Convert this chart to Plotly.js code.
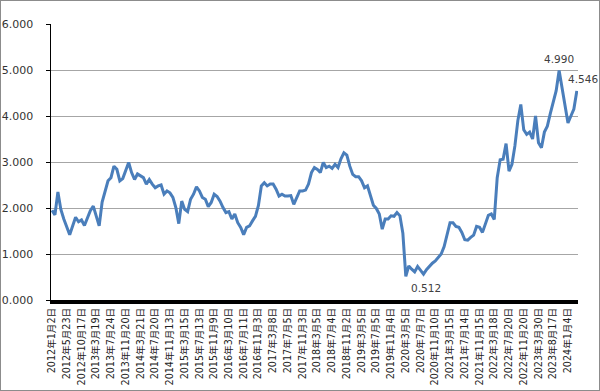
<!DOCTYPE html>
<html>
<head>
<meta charset="utf-8">
<script src="https://cdn.plot.ly/plotly-3.0.1.min.js"></script>
<style>
html,body{margin:0;padding:0;background:#fff;}
#chart{width:600px;height:391px;box-sizing:border-box;border:1px solid #8c8c8c;}
</style>
</head>
<body>
<div id="chart"></div>
<script>
// observation dates (categories)
const dates = [
'2012-01-02','2012-01-30','2012-02-27','2012-03-26','2012-04-24','2012-05-23','2012-06-21','2012-07-20','2012-08-20','2012-09-18',
'2012-10-17','2012-11-16','2012-12-17','2013-01-16','2013-02-15','2013-03-19','2013-04-13','2013-05-08','2013-06-03','2013-06-28',
'2013-07-24','2013-08-17','2013-09-10','2013-10-04','2013-10-28','2013-11-20','2013-12-14','2014-01-08','2014-02-01','2014-02-25',
'2014-03-21','2014-04-14','2014-05-08','2014-06-01','2014-06-25','2014-07-20','2014-08-12','2014-09-04','2014-09-27','2014-10-20',
'2014-11-13','2014-12-07','2015-01-01','2015-01-25','2015-02-18','2015-03-15','2015-04-08','2015-05-02','2015-05-26','2015-06-19',
'2015-07-13','2015-08-06','2015-08-30','2015-09-23','2015-10-16','2015-11-09','2015-12-03','2015-12-28','2016-01-21','2016-02-14',
'2016-03-10','2016-04-03','2016-04-28','2016-05-23','2016-06-16','2016-07-11','2016-08-03','2016-08-26','2016-09-18','2016-10-11',
'2016-11-03','2016-11-28','2016-12-23','2017-01-17','2017-02-11','2017-03-08','2017-04-01','2017-04-25','2017-05-19','2017-06-12',
'2017-07-05','2017-07-29','2017-08-22','2017-09-15','2017-10-10','2017-11-03','2017-11-27','2017-12-22','2018-01-15','2018-02-08',
'2018-03-05','2018-03-29','2018-04-22','2018-05-16','2018-06-10','2018-07-04','2018-07-28','2018-08-21','2018-09-14','2018-10-09',
'2018-11-02','2018-11-26','2018-12-21','2019-01-15','2019-02-09','2019-03-05','2019-03-29','2019-04-23','2019-05-17','2019-06-10',
'2019-07-05','2019-07-29','2019-08-23','2019-09-16','2019-10-10','2019-11-04','2019-11-28','2019-12-23','2020-01-16','2020-02-10',
'2020-03-05','2020-03-30','2020-04-24','2020-05-19','2020-06-13','2020-07-07','2020-08-01','2020-08-26','2020-09-21','2020-10-16',
'2020-11-10','2020-12-05','2020-12-30','2021-01-24','2021-02-18','2021-03-15','2021-04-08','2021-05-02','2021-05-27','2021-06-20',
'2021-07-14','2021-08-08','2021-09-01','2021-09-26','2021-10-21','2021-11-15','2021-12-10','2022-01-03','2022-01-28','2022-02-21',
'2022-03-18','2022-04-12','2022-05-07','2022-06-01','2022-06-25','2022-07-20','2022-08-14','2022-09-08','2022-10-02','2022-10-27',
'2022-11-20','2022-12-16','2023-01-11','2023-02-06','2023-03-04','2023-03-30','2023-04-27','2023-05-25','2023-06-22','2023-07-20',
'2023-08-17','2023-09-14','2023-10-12','2023-11-09','2023-12-07','2024-01-04','2024-02-01','2024-02-29','2024-03-27'
];

// series values
const values = [
1.95,1.85,2.35,1.97,1.76,1.58,1.42,1.61,1.80,1.70,
1.74,1.62,1.80,1.94,2.04,1.83,1.61,2.13,2.37,2.59,
2.66,2.91,2.84,2.59,2.64,2.80,2.99,2.77,2.62,2.74,
2.70,2.66,2.52,2.62,2.52,2.44,2.48,2.50,2.30,2.37,
2.33,2.23,2.01,1.66,2.15,1.97,1.92,2.19,2.30,2.46,
2.37,2.23,2.19,2.03,2.12,2.30,2.25,2.15,2.01,1.90,
1.92,1.76,1.87,1.68,1.58,1.42,1.58,1.61,1.72,1.82,
2.05,2.48,2.55,2.48,2.52,2.52,2.41,2.26,2.30,2.26,
2.26,2.27,2.08,2.23,2.37,2.37,2.39,2.52,2.77,2.88,
2.84,2.77,2.99,2.88,2.91,2.86,2.95,2.88,3.07,3.20,
3.15,2.91,2.73,2.68,2.68,2.59,2.44,2.48,2.26,2.06,
1.99,1.87,1.54,1.76,1.76,1.83,1.82,1.90,1.83,1.45,
0.512,0.74,0.67,0.61,0.73,0.64,0.56,0.66,0.74,0.80,
0.85,0.93,1.00,1.16,1.43,1.68,1.68,1.60,1.58,1.47,
1.31,1.30,1.36,1.41,1.60,1.58,1.47,1.67,1.84,1.87,
1.75,2.66,3.05,3.06,3.40,2.80,2.95,3.35,3.90,4.25,
3.70,3.60,3.65,3.50,4.00,3.42,3.31,3.65,3.78,4.05,
4.30,4.55,4.99,4.60,4.20,3.85,4.00,4.15,4.546
];

// axis tick dates and their labels
const tickDates = [
'2012-01-02','2012-05-23','2012-10-17','2013-03-19','2013-07-24','2013-11-20','2014-03-21','2014-07-20','2014-11-13',
'2015-03-15','2015-07-13','2015-11-09','2016-03-10','2016-07-11','2016-11-03','2017-03-08','2017-07-05','2017-11-03',
'2018-03-05','2018-07-04','2018-11-02','2019-03-05','2019-07-05','2019-11-04','2020-03-05','2020-07-07','2020-11-10',
'2021-03-15','2021-07-14','2021-11-15','2022-03-18','2022-07-20','2022-11-20','2023-03-30','2023-08-17','2024-01-04'
];
const tickLabels = tickDates.map(d => {
  const p = d.split('-');
  return p[0] + '年' + parseInt(p[1], 10) + '月' + parseInt(p[2], 10) + '日';
});

const yTicks = [0, 1, 2, 3, 4, 5, 6];

// labelled points: minimum, maximum, last
const minIdx = values.indexOf(Math.min(...values));
const maxIdx = values.indexOf(Math.max(...values));
const lastIdx = values.length - 1;

const font = 'DejaVu Sans, Verdana, Noto Sans CJK JP, sans-serif';

const trace = {
  type: 'scatter',
  mode: 'lines',
  x: dates,
  y: values,
  line: {color: '#4a7ebb', width: 3},
  hoverinfo: 'x+y',
  cliponaxis: false
};

const ann = (idx, xs, ys) => ({
  x: dates[idx], y: values[idx], xref: 'x', yref: 'y',
  text: values[idx].toFixed(3), showarrow: false,
  xshift: xs, yshift: ys,
  font: {family: font, size: 10.5, color: '#404040'}
});

const layout = {
  width: 598, height: 389,
  margin: {l: 50, r: 21, t: 23, b: 90},
  paper_bgcolor: '#ffffff',
  plot_bgcolor: '#ffffff',
  showlegend: false,
  font: {family: font, color: '#333333'},
  xaxis: {
    type: 'category',
    range: [-0.34, lastIdx + 0.4],
    autorange: false,
    tickmode: 'array',
    tickvals: tickDates,
    ticktext: tickLabels,
    tickangle: -90,
    tickfont: {family: font, size: 9.6, color: '#222222'},
    ticks: '',
    showgrid: false,
    zeroline: false,
    showline: true,
    linecolor: '#000000',
    linewidth: 4
  },
  yaxis: {
    range: [0, 6],
    autorange: false,
    tickmode: 'array',
    tickvals: yTicks,
    ticktext: yTicks.map(v => v.toFixed(3)),
    tickfont: {family: font, size: 11, color: '#333333'},
    ticks: 'outside',
    ticklen: 4,
    tickcolor: '#000000',
    tickwidth: 1,
    ticklabelstandoff: 10,
    showgrid: true,
    gridcolor: '#a6a6a6',
    gridwidth: 1,
    zeroline: false,
    showline: true,
    linecolor: '#000000',
    linewidth: 1.5
  },
  annotations: [
    ann(maxIdx, 0, 11),
    ann(lastIdx, 6, 12),
    ann(minIdx, 20, -12)
  ]
};

Plotly.newPlot('chart', [trace], layout, {displayModeBar: false, staticPlot: true});
</script>
</body>
</html>
